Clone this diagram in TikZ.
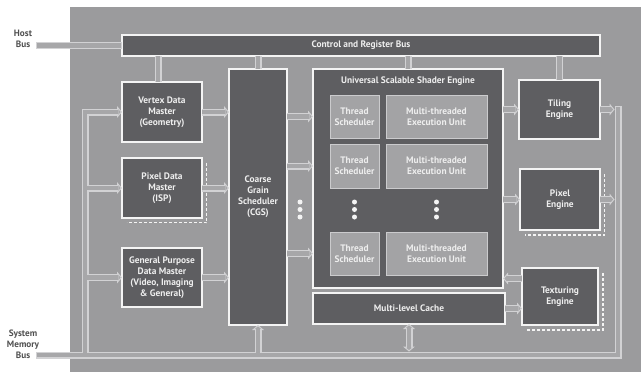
\documentclass[tikz,border=0pt]{standalone}
\usepackage{fontspec}
\setmainfont{PT Sans}
\usetikzlibrary{arrows.meta}
\definecolor{panel}{HTML}{9B9B9D}
\definecolor{dark}{HTML}{5E5E61}
\definecolor{edge}{HTML}{F4F4F4}
\definecolor{light}{HTML}{A3A3A5}
\definecolor{lightedge}{HTML}{CBCBCD}
\definecolor{txt}{HTML}{EEEEEE}
\definecolor{pipeline}{HTML}{D2D2D4}
\definecolor{pipefill}{HTML}{A7A7A9}
\definecolor{outtxt}{HTML}{505050}
\newcommand\pipenet{%
  \draw[pipeend] (hostend) -- (cbus.west);
  \draw[pipeend] (smb) -- (bc) -- (bt);
  \draw (vt |- cbus.south) -- (vt);
  \draw (cgs.north |- cbus.south) -- (cgs.north);
  \draw (usse.north |- cbus.south) -- (usse.north);
  \draw (tiling.north |- cbus.south) -- (tiling.north);
  \draw[pipehead] (lb) -- (lt) -- (vdm.west);
  \draw[pipehead] (lb |- pdm.west) -- (pdm.west);
  \draw[pipehead] (lb |- gpdm.west) -- (gpdm.west);
  \draw[pipehead] (vdm.east) -- (vdm.east -| cgs.west);
  \draw[pipehead] (pdm.east) -- (pdm.east -| cgs.west);
  \draw[pipehead] (gpdm.east) -- (gpdm.east -| cgs.west);
  \draw[pipehead] (ts1 -| cgs.east) -- (ts1 -| usse.west);
  \draw[pipehead] (ts2 -| cgs.east) -- (ts2 -| usse.west);
  \draw[pipehead] (ts3 -| cgs.east) -- (ts3 -| usse.west);
  \draw[pipehead] (usse.east |- tiling.west) -- (tiling.west);
  \draw[pipehead] (usse.east |- pixel.west) -- (pixel.west);
  \draw[pipehead] (tw) -- (tw -| usse.east);
  \draw[pipehead] (cache.east) -- (cache.east -| tex.west);
  \draw[pipehead] (tiling.east) -- (tiling.east -| bedge);
  \draw[pipehead] (pixel.east) -- (pixel.east -| bedge);
  \draw[pipehead] (cgs.south |- smb) -- (cgs.south);
  \draw[pipeheads] (cache.south) -- (cache.south |- btop);
}
\begin{document}
\begin{tikzpicture}[x=1pt,y=-1pt,
  every node/.style={inner sep=0pt, outer sep=0pt},
  boxfont/.style={font=\fontsize{9.4}{11}\selectfont\bfseries},
  darkbox/.style={draw=edge, fill=dark, line width=1.5pt, text=txt, align=center, boxfont},
  lightbox/.style={draw=lightedge, fill=light, line width=1pt, text=txt, align=center, boxfont},
  outlabel/.style={text=outtxt, align=center, font=\fontsize{9.2}{11}\selectfont\bfseries},
  shadowline/.style={draw=edge, line width=1.5pt, dash pattern=on 3pt off 2pt},
  dot/.style={circle, fill=edge, minimum size=5pt},
  pipeA/.style={line width=7pt, color=pipeline,
    pipehead/.style={-{Triangle[length=5pt,width=12pt,line width=0pt]}},
    pipeheads/.style={{Triangle[length=5pt,width=12pt,line width=0pt]}-{Triangle[length=5pt,width=12pt,line width=0pt]}},
    pipeend/.style={}},
  pipeB/.style={line width=4.8pt, color=pipefill,
    pipehead/.style={-{Triangle[length=2.3pt,width=5.6pt,line width=0pt]}, shorten >=1.45pt},
    pipeheads/.style={{Triangle[length=2.3pt,width=5.6pt,line width=0pt]}-{Triangle[length=2.3pt,width=5.6pt,line width=0pt]}, shorten >=1.45pt, shorten <=1.45pt},
    pipeend/.style={shorten <=1.1pt, shorten >=1.1pt}}
]
\useasboundingbox (0,0) rectangle (641,372);
\fill[white] (0,0) rectangle (641,372);
\fill[panel] (70,7) rectangle (641,372);

% outside labels
\node[outlabel] (hostlbl) at (23,39) {Host\\Bus};
\node[outlabel] (smblbl) at (23,344) {System\\Memory\\Bus};

% boxes
\node[darkbox, minimum width=478, minimum height=21] (cbus) at (361,45.5) {Control and Register Bus};
\node[darkbox, minimum width=80, minimum height=60] (vdm) at (162,112) {Vertex Data\\Master\\(Geometry)};
\node[darkbox, minimum width=80, minimum height=60] (pdm) at (162,188) {Pixel Data\\Master\\(ISP)};
\node[darkbox, minimum width=80, minimum height=59] (gpdm) at (162,277.5) {General Purpose\\Data Master\\(Video, Imaging\\\& General)};
\node[darkbox, minimum width=58, minimum height=256] (cgs) at (258,197) {Coarse\\Grain\\Scheduler\\(CGS)};
\node[darkbox, minimum width=190, minimum height=219] (usse) at (408,178.5) {};
\node[text=txt, boxfont] (ussetitle) at ([yshift=-12pt]usse.north) {Universal Scalable Shader Engine};
\node[lightbox, minimum width=49, minimum height=43] (ts1) at (354.5,116.5) {Thread\\Scheduler};
\node[lightbox, minimum width=49, minimum height=44] (ts2) at (354.5,166) {Thread\\Scheduler};
\node[lightbox, minimum width=49, minimum height=43] (ts3) at (354.5,253.5) {Thread\\Scheduler};
\node[lightbox, minimum width=101, minimum height=43] (eu1) at (436.5,116.5) {Multi-threaded\\Execution Unit};
\node[lightbox, minimum width=101, minimum height=44] (eu2) at (436.5,166) {Multi-threaded\\Execution Unit};
\node[lightbox, minimum width=101, minimum height=43] (eu3) at (436.5,253.5) {Multi-threaded\\Execution Unit};
\node[darkbox, minimum width=192, minimum height=31] (cache) at (409,308.5) {Multi-level Cache};
\node[darkbox, minimum width=81, minimum height=59] (tiling) at (559.5,109.5) {Tiling\\Engine};
\node[darkbox, minimum width=80, minimum height=61] (pixel) at (560,199.5) {Pixel\\Engine};
\node[darkbox, minimum width=76, minimum height=57] (tex) at (560,296.5) {Texturing\\Engine};

% dots
\foreach \x/\n in {300/a,354.5/b,436.5/c}{
  \node[dot] (dot\n1) at (\x,202) {};
  \node[dot] (dot\n2) at (\x,209.5) {};
  \node[dot] (dot\n3) at (\x,217) {};
}

% dashed shadows
\draw[shadowline] ([shift={(4.5,4.5)}]pdm.north east) -- ([shift={(4.5,4.5)}]pdm.south east) -- ([shift={(4.5,4.5)}]pdm.south west);
\draw[shadowline] ([shift={(4.5,5)}]pixel.north east) -- ([shift={(4.5,5)}]pixel.south east) -- ([shift={(4.5,5)}]pixel.south west);
\draw[shadowline] ([shift={(5,5)}]tex.north east) -- ([shift={(5,5)}]tex.south east) -- ([shift={(5,5)}]tex.south west);

% bus coordinates
\coordinate (hostend) at (36,45.5);
\coordinate (smb) at (36,355);
\coordinate (bc) at (618,355);
\coordinate (bt) at (618,106);
\coordinate (bedge) at (614.5,106);
\coordinate (btop) at (400,351.5);
\coordinate (lb) at (85,355);
\coordinate (lt) at (lb |- vdm.west);
\coordinate (vt) at ([xshift=-4pt]vdm.north);
\coordinate (tw) at ([yshift=18pt]tex.west);

\begin{scope}[pipeA]\pipenet\end{scope}
\begin{scope}[pipeB]\pipenet\end{scope}
\end{tikzpicture}
\end{document}
